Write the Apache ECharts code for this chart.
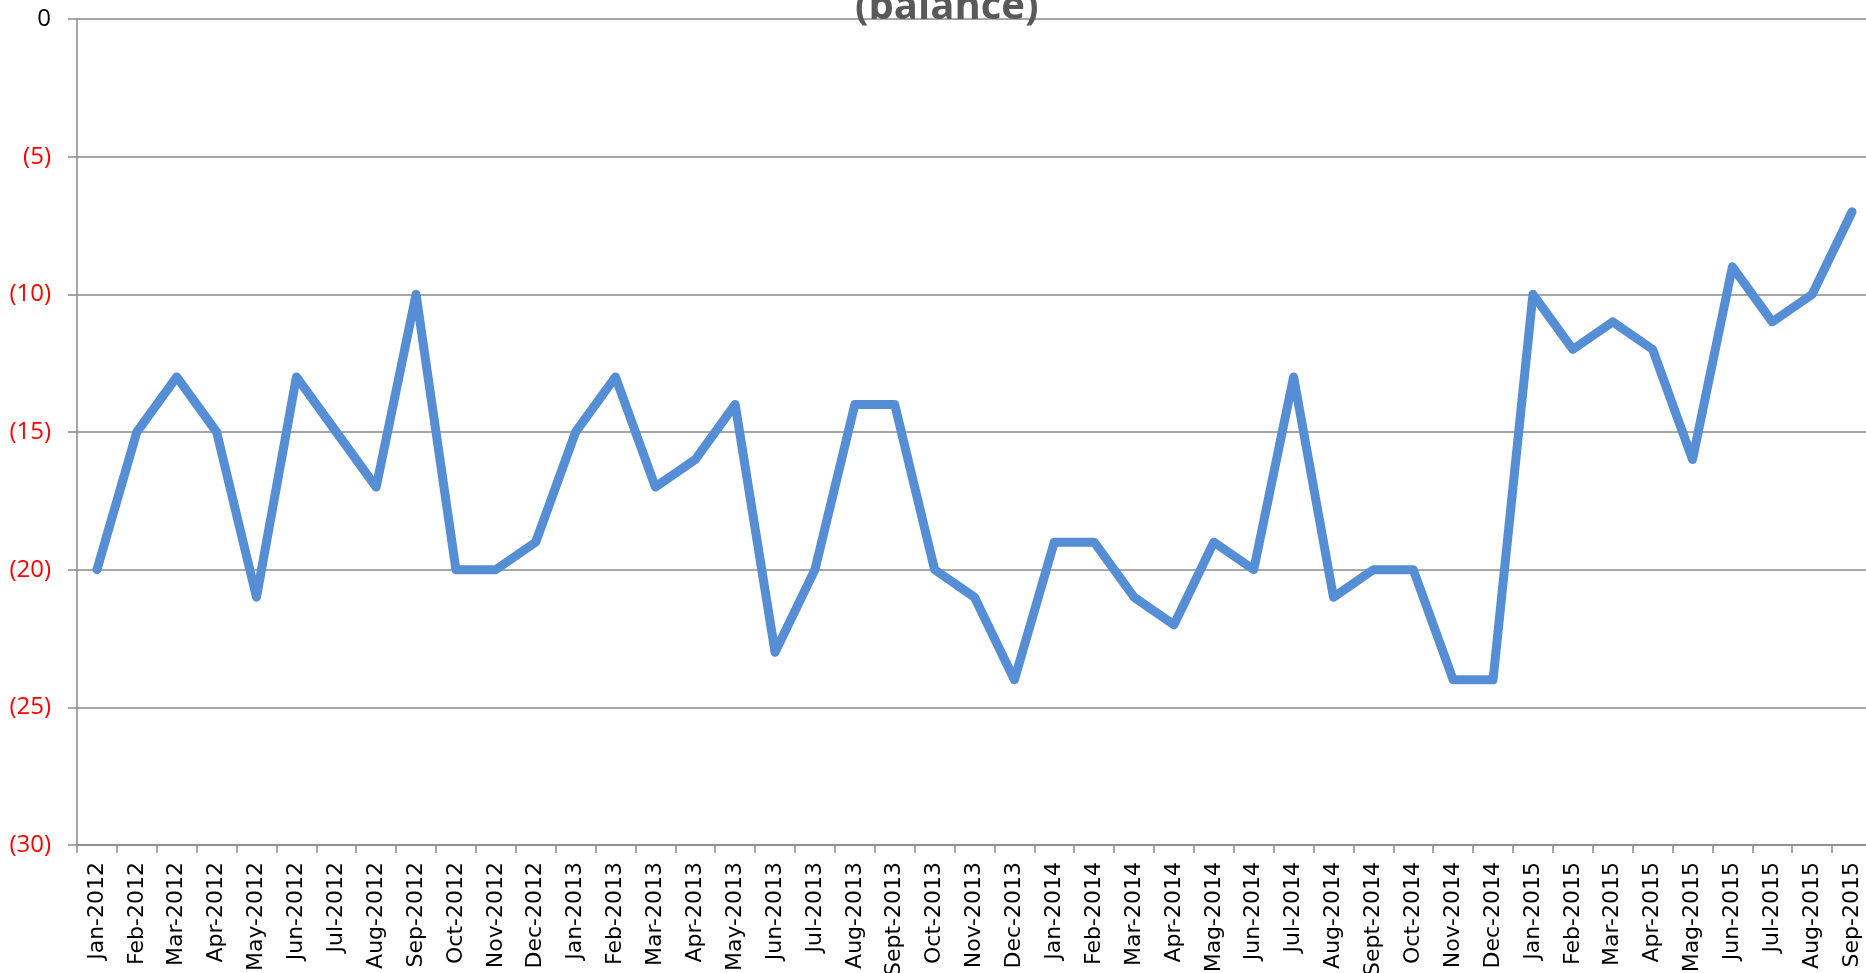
<!DOCTYPE html>
<html>
<head>
<meta charset="utf-8">
<title>(balance)</title>
<script src="https://cdn.jsdelivr.net/npm/echarts@6/dist/echarts.min.js"></script>
<style>
  html, body { margin: 0; padding: 0; background: #ffffff; }
  #chart { width: 1866px; height: 973px; }
</style>
</head>
<body>
<div id="chart"></div>
<script>
// Monthly balance, Jan 2012 – Sep 2015
const months = [
  'Jan-2012','Feb-2012','Mar-2012','Apr-2012','May-2012','Jun-2012','Jul-2012','Aug-2012','Sep-2012','Oct-2012','Nov-2012','Dec-2012',
  'Jan-2013','Feb-2013','Mar-2013','Apr-2013','May-2013','Jun-2013','Jul-2013','Aug-2013','Sept-2013','Oct-2013','Nov-2013','Dec-2013',
  'Jan-2014','Feb-2014','Mar-2014','Apr-2014','Mag-2014','Jun-2014','Jul-2014','Aug-2014','Sept-2014','Oct-2014','Nov-2014','Dec-2014',
  'Jan-2015','Feb-2015','Mar-2015','Apr-2015','Mag-2015','Jun-2015','Jul-2015','Aug-2015','Sep-2015'
];

const balance = [
  -20, -15, -13, -15, -21, -13, -15, -17, -10, -20, -20, -19,
  -15, -13, -17, -16, -14, -23, -20, -14, -14, -20, -21, -24,
  -19, -19, -21, -22, -19, -20, -13, -21, -20, -20, -24, -24,
  -10, -12, -11, -12, -16, -9, -11, -10, -7
];

const yMin = -30;
const yMax = 0;
const yStep = 5;

const titleText = '(balance)';

const chart = echarts.init(document.getElementById('chart'), null, { renderer: 'canvas' });

const gridColor = '#8a8a8a';

chart.setOption({
  animation: false,
  backgroundColor: '#ffffff',
  grid: { left: 77, right: -6, top: 19, bottom: 128, containLabel: false, outerBoundsMode: 'none' },
  graphic: [{
    type: 'text',
    left: 855,
    top: -12,
    z: 10,
    style: {
      text: titleText,
      font: 'bold 40px "Open Sans"',
      fill: '#595959'
    }
  }],
  xAxis: {
    type: 'category',
    data: months,
    boundaryGap: true,
    axisLine: { show: true, onZero: false, lineStyle: { color: gridColor, width: 1.5 } },
    axisTick: { show: true, length: 8, alignWithLabel: false, interval: 0, lineStyle: { color: gridColor, width: 1.5 } },
    axisLabel: {
      interval: 0,
      rotate: 90,
      margin: 17,
      color: '#000000',
      fontFamily: 'DejaVu Sans',
      fontSize: 22
    },
    splitLine: { show: false }
  },
  yAxis: {
    type: 'value',
    min: yMin,
    max: yMax,
    interval: yStep,
    axisLine: { show: true, lineStyle: { color: gridColor, width: 1.5 } },
    axisTick: { show: true, length: 9, lineStyle: { color: gridColor, width: 1.5 } },
    axisLabel: {
      margin: 26,
      fontFamily: 'Open Sans',
      fontSize: 24,
      color: function (v) { return v < 0 ? '#ff0000' : '#000000'; },
      formatter: function (v) { return v === 0 ? '0' : '(' + Math.abs(v) + ')'; }
    },
    splitLine: { show: true, lineStyle: { color: gridColor, width: 1.5 } }
  },
  series: [{
    type: 'line',
    data: balance,
    showSymbol: false,
    symbol: 'none',
    lineStyle: { color: '#558ed5', width: 9, cap: 'round', join: 'round' },
    itemStyle: { color: '#558ed5' }
  }]
});
</script>
</body>
</html>
